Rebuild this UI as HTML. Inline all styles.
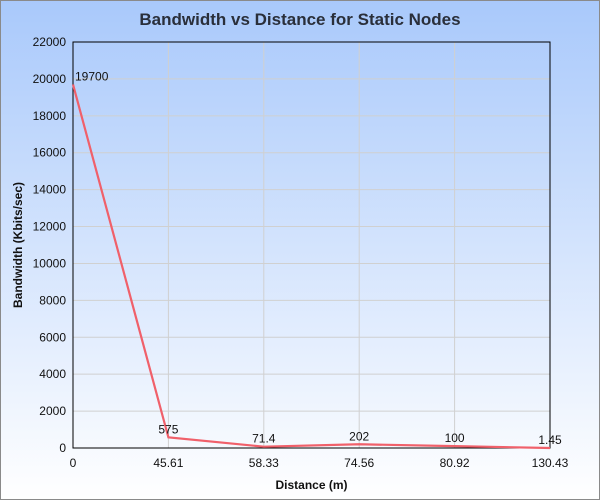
<!DOCTYPE html>
<html><head><meta charset="utf-8"><style>
html,body{margin:0;padding:0;}
body{width:600px;height:500px;overflow:hidden;font-family:"Liberation Sans",sans-serif;}
#wrap{position:relative;width:598px;height:498px;border:1px solid #8a8a8a;background:linear-gradient(#a9c9fb,#ffffff);}
</style></head><body>
<div id="wrap">
<svg id="chart" width="598" height="498" xmlns="http://www.w3.org/2000/svg"></svg>
</div>
<script>
const categories = ["0","45.61","58.33","74.56","80.92","130.43"];
const bandwidth = [19700,575,71.4,202,100,1.45];
const valueLabels = ["19700","575","71.4","202","100","1.45"];
const yTicks = [0,2000,4000,6000,8000,10000,12000,14000,16000,18000,20000,22000];

const svg = document.getElementById('chart');
const NS = 'http://www.w3.org/2000/svg';
const L=72, R=549, T=41, B=447, yMax=22000;
function xPos(i){return L + i*(R-L)/(categories.length-1);}
function yPos(v){return B - v/yMax*(B-T);}
function mk(tag, attrs, text){
  const e=document.createElementNS(NS,tag);
  for(const k in attrs) e.setAttribute(k,attrs[k]);
  if(text!==undefined) e.textContent=text;
  svg.appendChild(e); return e;
}
let t = mk('text',{x:299,y:24,'text-anchor':'middle','font-size':17,'font-weight':'bold',fill:'#2a2f3a'},'Bandwidth vs Distance for Static Nodes');



yTicks.forEach(v=>{
  const y=yPos(v);
  const g=mk('line',{x1:L,x2:R,y1:y,y2:y,stroke:'#d0d0d0','stroke-width':1});
  
  
  const lb=mk('text',{x:L-7,y:y+4,'text-anchor':'end','font-size':12,fill:'#111'},String(v));
  
  
});
categories.forEach((c,i)=>{
  const x=xPos(i);
  const g=mk('line',{x1:x,x2:x,y1:T,y2:B,stroke:'#d0d0d0','stroke-width':1});
  
  
  const lb=mk('text',{x:x,y:B+19,'text-anchor':'middle','font-size':12,fill:'#111'},c);
  
  
});
const frame=mk('rect',{x:L,y:T,width:R-L,height:B-T,fill:'none',stroke:'#000','stroke-width':1});



const pts=bandwidth.map((v,i)=>xPos(i)+','+yPos(v)).join(' ');
const line=mk('polyline',{points:pts,fill:'none',stroke:'#f0606a','stroke-width':2.2});


bandwidth.forEach((v,i)=>{
  const x=xPos(i), y=yPos(v);
  const lb=mk('text',{x:i===0?x+2:x,y:y-4,'text-anchor':i===0?'start':'middle','font-size':12,fill:'#111'},valueLabels[i]);
  
  
});
const xt=mk('text',{x:(L+R)/2,y:488,'text-anchor':'middle','font-size':12,'font-weight':'bold',fill:'#111'},'Distance (m)');


const yt=mk('text',{x:0,y:0,'text-anchor':'middle','font-size':12,'font-weight':'bold',fill:'#111',transform:'translate(21,'+((T+B)/2)+') rotate(-90)'},'Bandwidth (Kbits/sec)');


</script>
</body></html>
